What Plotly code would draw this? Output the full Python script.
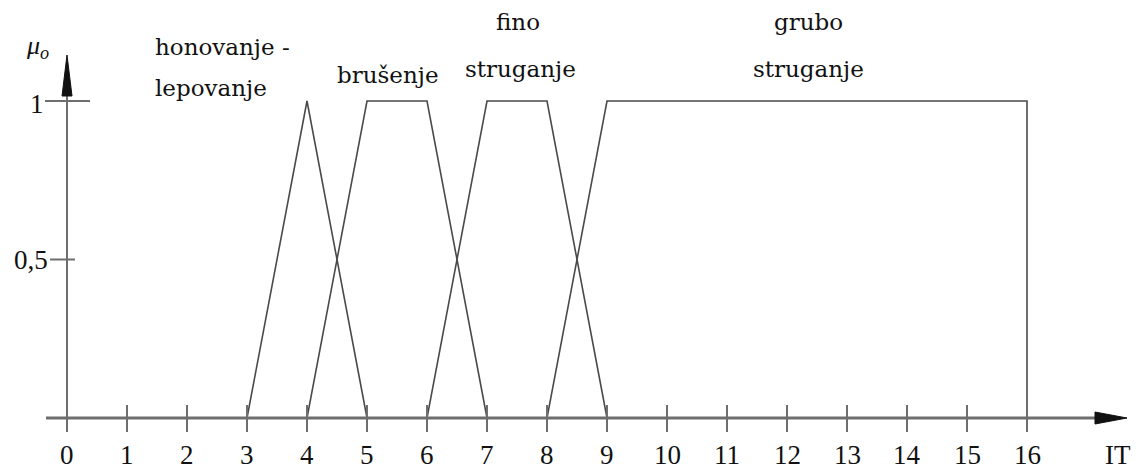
import plotly.graph_objects as go

# Membership functions of the IT quality grade per machining process
series_x = [
    [3, 4, 5],
    [4, 5, 6, 7],
    [6, 7, 8, 9],
    [8, 9, 16, 16],
]
series_mu = [
    [0, 1, 0],
    [0, 1, 1, 0],
    [0, 1, 1, 0],
    [0, 1, 1, 0],
]
# Process names, one entry per text line, with anchor (IT value, mu value)
label_text = ["honovanje -", "lepovanje", "brušenje", "fino", "struganje", "grubo", "struganje"]
label_x = [1.43, 1.43, 5.35, 7.52, 7.55, 12.35, 12.35]
label_y = [1.17, 1.04, 1.083, 1.25, 1.10, 1.25, 1.10]
label_anchor = ["left", "left", "center", "center", "center", "center", "center"]

x_ticks = list(range(0, 17))
x_tick_text = [str(v) for v in x_ticks]
y_ticks = [0.5, 1.0]
y_tick_text = ["0,5", "1"]

W, H = 1140, 470
X0, X_PX = 67, 60        # pixel of IT=0 and pixels per unit
Y0, Y_PX = 418, 317      # pixel of mu=0 and pixels per unit

x_range = [-X0 / X_PX, (W - X0) / X_PX]
y_range = [-(H - Y0) / Y_PX, Y0 / Y_PX]

NUM_FONT = "Liberation Serif"
LABEL_FONT = "DejaVu Serif"
INK = "#111111"
LINE = "#4a4a4a"
AXIS = "#6e6e6e"

fig = go.Figure()

for xs, ys in zip(series_x, series_mu):
    fig.add_trace(go.Scatter(x=xs, y=ys, mode="lines",
                             line=dict(color=LINE, width=1.6),
                             hoverinfo="skip", showlegend=False))

shapes = []
tick_up, tick_dn = 13 / Y_PX, -14 / Y_PX

# x axis line and arrow
shapes.append(dict(type="line", xref="x", yref="y", x0=-21 / X_PX, x1=(1100 - X0) / X_PX,
                   y0=0, y1=0, line=dict(color=AXIS, width=3)))
ax_tip = (1127 - X0) / X_PX
ax_base = (1095 - X0) / X_PX
shapes.append(dict(type="path", xref="x", yref="y",
                   path=f"M {ax_base} {6 / Y_PX} L {ax_tip} 0 L {ax_base} {-6 / Y_PX} Z",
                   fillcolor=INK, line=dict(color=INK, width=1)))

# y axis line and arrow
shapes.append(dict(type="line", xref="x", yref="y", x0=0, x1=0,
                   y0=tick_dn, y1=(Y0 - 95) / Y_PX, line=dict(color=AXIS, width=2)))
ay_tip = (Y0 - 55) / Y_PX
ay_base = (Y0 - 96) / Y_PX
shapes.append(dict(type="path", xref="x", yref="y",
                   path=f"M {-5 / X_PX} {ay_base} L 0 {ay_tip} L {5 / X_PX} {ay_base} Z",
                   fillcolor=INK, line=dict(color=INK, width=1)))

# x ticks (crossing the axis)
for v in x_ticks[1:]:
    shapes.append(dict(type="line", xref="x", yref="y", x0=v, x1=v, y0=tick_dn, y1=tick_up,
                       line=dict(color=AXIS, width=2)))

# y ticks
y_tick_left = {0.5: -17 / X_PX, 1.0: -22 / X_PX}
y_tick_right = {0.5: 8 / X_PX, 1.0: 23 / X_PX}
for v in y_ticks:
    shapes.append(dict(type="line", xref="x", yref="y", x0=y_tick_left[v], x1=y_tick_right[v],
                       y0=v, y1=v, line=dict(color=AXIS, width=2)))

annotations = []
for v, t in zip(x_ticks, x_tick_text):
    annotations.append(dict(x=v, y=-37 / Y_PX, xref="x", yref="y", text=t, showarrow=False,
                            font=dict(family=NUM_FONT, size=27, color=INK),
                            xanchor="center", yanchor="middle"))
annotations.append(dict(x=(1118 - X0) / X_PX, y=-37 / Y_PX, xref="x", yref="y", text="IT",
                        showarrow=False, font=dict(family=NUM_FONT, size=27, color=INK),
                        xanchor="center", yanchor="middle"))
for v, t in zip(y_ticks, y_tick_text):
    annotations.append(dict(x=-17 / X_PX if v == 0.5 else -30 / X_PX,
                            y=v + (0 if v == 0.5 else -3 / Y_PX),
                            xref="x", yref="y", text=t, showarrow=False,
                            font=dict(family=NUM_FONT, size=27, color=INK),
                            xanchor="right" if v == 0.5 else "center", yanchor="middle"))
annotations.append(dict(x=-30 / X_PX, y=(Y0 - 47) / Y_PX, xref="x", yref="y",
                        text="<i>μ<sub>o</sub></i>", showarrow=False,
                        font=dict(family=NUM_FONT, size=26, color=INK),
                        xanchor="center", yanchor="middle"))

for t, lx, ly, al in zip(label_text, label_x, label_y, label_anchor):
    annotations.append(dict(x=lx, y=ly, xref="x", yref="y", text=t, showarrow=False,
                            font=dict(family=LABEL_FONT, size=23, color=INK),
                            xanchor=al, yanchor="middle"))

fig.update_layout(
    width=W, height=H,
    margin=dict(l=0, r=0, t=0, b=0),
    paper_bgcolor="white", plot_bgcolor="white",
    xaxis=dict(range=x_range, visible=False, fixedrange=True),
    yaxis=dict(range=y_range, visible=False, fixedrange=True),
    shapes=shapes, annotations=annotations,
    showlegend=False,
)

fig.write_html("out.html")
